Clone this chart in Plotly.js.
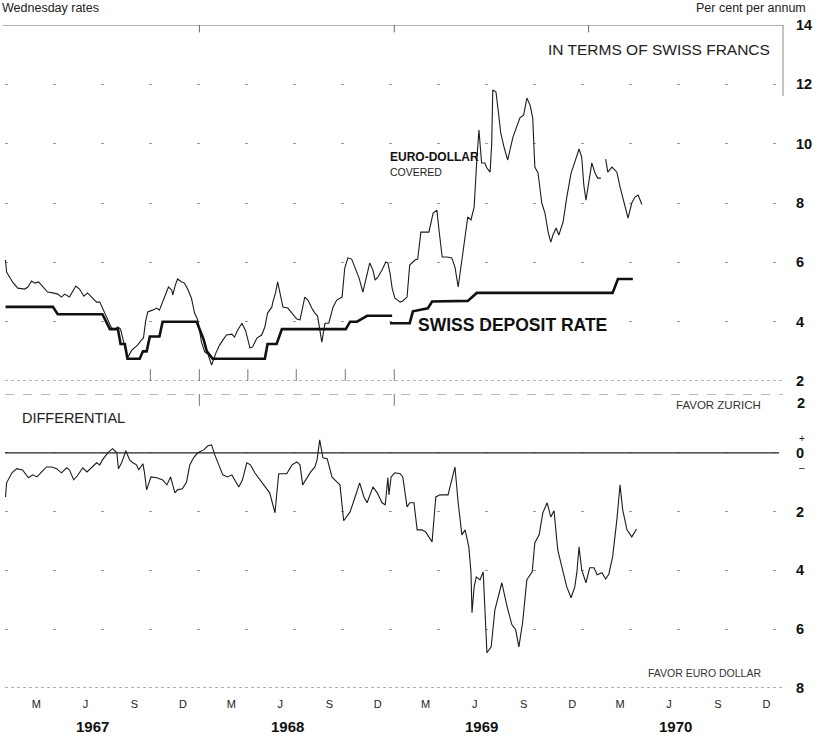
<!DOCTYPE html>
<html><head><meta charset="utf-8">
<script src="https://cdn.plot.ly/plotly-3.0.1.min.js"></script>
<style>html,body{margin:0;padding:0;background:#fff}#chart{width:821px;height:740px}</style>
</head><body><div id="chart"></div>
<script>
// Euro-dollar rate, covered (in terms of Swiss francs), decimal years
const edYears = [1967.005,1967.010,1967.041,1967.067,1967.103,1967.118,1967.139,1967.154,1967.175,1967.195,1967.221,1967.247,1967.272,1967.293,1967.308,1967.334,1967.350,1967.365,1967.386,1967.406,1967.427,1967.452,1967.473,1967.488,1967.504,1967.524,1967.550,1967.566,1967.581,1967.596,1967.612,1967.632,1967.653,1967.668,1967.684,1967.704,1967.715,1967.725,1967.735,1967.761,1967.781,1967.797,1967.812,1967.833,1967.843,1967.859,1967.864,1967.879,1967.889,1967.910,1967.925,1967.941,1967.961,1967.977,1967.992,
1968.013,1968.028,1968.044,1968.064,1968.085,1968.105,1968.121,1968.141,1968.167,1968.183,1968.198,1968.219,1968.239,1968.260,1968.275,1968.296,1968.321,1968.337,1968.352,1968.373,1968.378,1968.393,1968.404,1968.424,1968.429,1968.455,1968.476,1968.501,1968.517,1968.542,1968.558,1968.578,1968.594,1968.609,1968.630,1968.645,1968.666,1968.686,1968.707,1968.733,1968.748,1968.764,1968.784,1968.799,1968.820,1968.841,1968.861,1968.877,1968.892,1968.902,1968.918,1968.938,1968.959,1968.969,1968.979,1968.990,
1969.005,1969.031,1969.046,1969.067,1969.082,1969.108,1969.123,1969.139,1969.159,1969.180,1969.200,1969.221,1969.231,1969.247,1969.272,1969.298,1969.314,1969.329,1969.350,1969.365,1969.380,1969.396,1969.411,1969.427,1969.437,1969.442,1969.452,1969.468,1969.478,1969.494,1969.504,1969.509,1969.524,1969.535,1969.550,1969.566,1969.586,1969.612,1969.632,1969.648,1969.668,1969.684,1969.699,1969.715,1969.725,1969.740,1969.761,1969.776,1969.792,1969.807,1969.817,1969.833,1969.848,1969.869,1969.889,1969.910,1969.930,1969.951,1969.966,1969.977,1969.987,
1970.003,1970.018,1970.033,1970.049,1970.064,null,1970.090,1970.100,1970.121,1970.147,1970.162,1970.183,1970.203,1970.224,1970.239,1970.255,1970.275];
const edRates = [6.08,5.67,5.34,5.13,5.10,5.17,5.37,5.30,5.34,5.17,5.00,4.97,4.93,4.83,4.93,4.83,5.03,5.20,5.10,4.86,4.97,4.80,4.66,4.66,4.46,4.16,3.79,3.75,3.82,3.75,3.28,2.78,3.04,3.11,3.21,3.38,3.45,4.00,4.33,4.39,4.46,4.39,4.66,5.00,5.17,5.07,4.90,5.24,5.44,5.34,5.30,5.10,4.80,4.29,4.06,
3.31,2.98,2.91,2.54,2.94,3.21,3.38,3.55,3.58,3.48,3.72,3.95,3.69,3.11,3.15,3.45,3.55,3.82,4.29,4.49,4.66,4.97,5.34,4.73,4.49,4.46,4.29,4.09,4.06,4.83,4.73,4.46,4.29,4.19,3.31,3.95,3.95,4.49,4.73,4.83,5.81,6.15,6.11,5.84,5.47,5.00,5.64,5.98,5.74,5.40,5.50,5.74,6.01,5.98,5.64,5.13,
4.80,4.66,4.70,4.83,5.91,6.08,6.11,7.02,7.02,7.02,7.66,7.76,7.09,6.18,6.18,6.15,5.84,5.17,6.08,6.85,7.53,7.43,7.86,9.45,10.46,10.02,9.35,9.35,9.18,9.04,10.02,11.81,11.74,11.14,10.36,9.89,9.45,10.23,10.56,10.87,10.97,11.54,11.30,10.87,9.21,9.01,8.00,7.66,7.02,6.68,6.92,7.16,6.92,7.36,8.20,9.01,9.38,9.82,9.55,8.60,8.10,
8.88,9.35,9.01,8.84,8.84,null,9.48,9.04,9.21,9.04,8.54,8.00,7.49,8.00,8.20,8.27,7.95];

// Swiss deposit rate
const sdYears = [1967.005,1967.247,1967.272,1967.504,1967.540,1967.581,1967.596,1967.617,1967.632,1967.694,1967.710,1967.730,1967.746,1967.797,1967.812,1967.987,
1968.023,1968.039,1968.069,1968.337,1968.352,1968.398,1968.424,1968.753,1968.774,1968.810,1968.861,1968.990,null,1968.979,
1969.082,1969.098,1969.175,1969.195,1969.380,1969.427,1970.126,1970.152,1970.229];
const sdRates = [4.50,4.50,4.25,4.25,3.75,3.75,3.25,3.25,2.75,2.75,3.00,3.00,3.50,3.50,4.00,4.00,
3.40,3.00,2.75,2.75,3.25,3.25,3.75,3.75,4.00,4.00,4.20,4.20,null,3.95,
3.95,4.35,4.45,4.68,4.70,4.97,4.97,5.44,5.44];

// Differential (positive = favor Zurich)
const dfYears = [1967.005,1967.010,1967.036,1967.062,1967.093,1967.113,1967.123,1967.144,1967.165,1967.190,1967.216,1967.242,1967.267,1967.293,1967.319,1967.334,1967.355,1967.375,1967.401,1967.422,1967.447,1967.473,1967.488,1967.504,1967.530,1967.555,1967.576,1967.586,1967.602,1967.622,1967.643,1967.658,1967.679,1967.689,1967.710,1967.720,1967.730,1967.751,1967.781,1967.812,1967.833,1967.853,1967.874,1967.889,1967.915,1967.936,1967.951,1967.972,1967.992,
1968.023,1968.044,1968.064,1968.080,1968.095,1968.121,1968.147,1968.167,1968.203,1968.224,1968.244,1968.265,1968.285,1968.301,1968.337,1968.362,1968.388,1968.409,1968.450,1968.476,1968.501,1968.517,1968.532,1968.553,1968.573,1968.594,1968.604,1968.620,1968.635,1968.656,1968.681,1968.707,1968.722,1968.743,1968.774,1968.799,1968.825,1968.846,1968.861,1968.892,1968.913,1968.938,1968.954,1968.969,1968.974,1968.985,
1969.005,1969.031,1969.046,1969.067,1969.082,1969.103,1969.118,1969.144,1969.164,1969.195,1969.216,1969.237,1969.278,1969.314,1969.329,1969.350,1969.365,1969.386,1969.396,1969.401,1969.411,1969.422,1969.442,1969.458,1969.463,1969.473,1969.478,1969.499,1969.519,1969.555,1969.581,1969.607,1969.627,1969.643,1969.663,1969.684,1969.710,1969.725,1969.746,1969.766,1969.787,1969.807,1969.823,1969.843,1969.869,1969.889,1969.910,1969.930,1969.941,1969.951,1969.966,1969.987,
1970.008,1970.028,1970.044,1970.069,1970.090,1970.105,1970.126,1970.147,1970.162,1970.177,1970.198,1970.224,1970.249];
const dfValues = [-1.50,-1.02,-0.68,-0.54,-0.58,-0.75,-0.85,-0.75,-0.82,-0.65,-0.48,-0.48,-0.54,-0.68,-0.51,-0.58,-0.92,-0.78,-0.51,-0.65,-0.51,-0.34,-0.41,-0.24,0.00,0.14,0.00,-0.54,-0.34,0.07,-0.24,-0.34,-0.41,-0.58,-0.37,-0.68,-1.26,-0.82,-0.85,-0.92,-1.09,-0.82,-1.36,-1.26,-1.22,-0.99,-0.41,-0.17,0.00,
0.10,0.24,0.27,-0.07,-0.31,-0.75,-0.82,-0.75,-1.16,-0.92,-0.34,-0.41,-0.68,-0.82,-1.16,-1.36,-2.04,-0.71,-0.71,-0.41,-0.31,-0.41,-1.09,-0.85,-0.65,-0.48,-0.24,0.44,-0.17,-0.20,-0.82,-0.99,-1.09,-2.31,-2.01,-1.53,-1.02,-1.50,-1.70,-1.16,-1.36,-1.70,-1.77,-0.85,-1.43,-0.82,
-0.68,-0.71,-0.82,-1.84,-1.70,-1.70,-2.62,-2.62,-2.69,-3.03,-1.50,-1.43,-1.43,-0.48,-1.70,-2.79,-2.62,-3.20,-4.05,-5.44,-4.56,-4.22,-4.32,-4.05,-4.56,-6.02,-6.80,-6.60,-5.34,-4.42,-5.24,-5.85,-6.02,-6.60,-5.78,-4.32,-4.05,-3.06,-2.79,-2.04,-1.70,-2.18,-1.97,-3.30,-4.05,-4.56,-4.93,-4.56,-4.05,-3.20,-3.98,-4.42,
-3.91,-3.91,-4.15,-4.08,-4.29,-4.12,-3.54,-2.28,-1.09,-1.94,-2.62,-2.86,-2.59];

// Axis labels
const monthTickDates = ['1967-03-01','1967-06-01','1967-09-01','1967-12-01','1968-03-01','1968-06-01','1968-09-01','1968-12-01','1969-03-01','1969-06-01','1969-09-01','1969-12-01','1970-03-01','1970-06-01','1970-09-01','1970-12-01'];
const monthTickText = ['M','J','S','D','M','J','S','D','M','J','S','D','M','J','S','D'];
const yearLabels = ['1967','1968','1969','1970'];
const topTicks = [2,4,6,8,10,12,14];
const diffTicks = [0,-2,-4,-6,-8];
const diffTickText = ['0','2','4','6','8'];
const diffTopLabel = '2';

function toDate(y){
  if (y === null) return null;
  const y0 = Math.floor(y);
  const s = Date.UTC(y0,0,1), e = Date.UTC(y0+1,0,1);
  return new Date(s + (y - y0)*(e - s)).toISOString().slice(0,10);
}

const ink = '#1c1c1c';
const traces = [
  {x: edYears.map(toDate), y: edRates, xaxis:'x', yaxis:'y', mode:'lines', line:{color:ink, width:1.1}, connectgaps:false, hoverinfo:'skip'},
  {x: sdYears.map(toDate), y: sdRates, xaxis:'x', yaxis:'y', mode:'lines', line:{color:'#111', width:2.6}, connectgaps:false, hoverinfo:'skip'},
  {x: dfYears.map(toDate), y: dfValues, xaxis:'x', yaxis:'y2', mode:'lines', line:{color:ink, width:1.1}, hoverinfo:'skip'}
];

const gridStyle = {showgrid:true, gridcolor:'#9a9a9a', gridwidth:1, griddash:'3px,45px', zeroline:false, showline:false, ticks:'', side:'right', ticklabelstandoff:12, tickfont:{size:14.5, weight:'bold', color:'#111'}};

const layout = {
  width:821, height:740,
  margin:{l:5, r:38, t:25, b:52},
  paper_bgcolor:'#fff', plot_bgcolor:'rgba(0,0,0,0)', showlegend:false,
  font:{family:'"Liberation Sans", Arial, sans-serif', color:ink},
  xaxis:{type:'date', range:['1967-01-01','1971-01-01'], anchor:'y2', tickvals:monthTickDates, ticktext:monthTickText,
         ticks:'', showgrid:false, zeroline:false, showline:false, tickfont:{size:11, color:'#222'}, ticklabelstandoff:8},
  yaxis: Object.assign({domain:[0.463,1], range:[2,14], tickvals:topTicks, anchor:'x'}, gridStyle),
  yaxis2: Object.assign({domain:[0,0.4434], range:[-8,2], tickvals:diffTicks, ticktext:diffTickText, anchor:'x'}, gridStyle),
  shapes:[
    {type:'line', xref:'paper', yref:'y', x0:-0.003, x1:1, y0:14, y1:14, line:{color:'#666', width:1}},
    {type:'line', xref:'paper', yref:'y', x0:1, x1:1, y0:14, y1:11.6, line:{color:'#888', width:1}},
    {type:'line', xref:'paper', yref:'y', x0:0, x1:1, y0:2, y1:2, line:{color:'#666', width:1, dash:'dot'}},
    {type:'line', xref:'paper', yref:'y2', x0:0, x1:1, y0:2, y1:2, line:{color:'#777', width:1, dash:'dash'}},
    {type:'line', xref:'paper', yref:'y2', x0:0, x1:0.995, y0:0, y1:0, line:{color:'#222', width:1.3}},
    {type:'line', xref:'paper', yref:'y2', x0:0, x1:1, y0:-8, y1:-8, line:{color:'#666', width:1, dash:'dot'}}
  ].concat(['1968-01-01','1969-01-01','1970-01-01'].map(d => ({type:'line', xref:'x', yref:'y', x0:d, x1:d, y0:14, y1:13.75, line:{color:'#666', width:1}})))
   .concat(['1967-10-01','1968-01-01','1968-04-01','1968-07-01','1968-10-01','1969-01-01'].map(d => ({type:'line', xref:'x', yref:'y', x0:d, x1:d, y0:2, y1:2.4, line:{color:'#777', width:1}})))
   .concat(['1968-01-01','1969-01-01'].map(d => ({type:'line', xref:'x', yref:'y2', x0:d, x1:d, y0:2, y1:1.6, line:{color:'#777', width:1}}))),
  annotations:[
    {text:'Wednesday rates', xref:'paper', yref:'paper', x:-0.0064, y:1.0256, xanchor:'left', yanchor:'middle', showarrow:false, font:{size:12.5, color:'#222'}},
    {text:'Per cent per annum', xref:'paper', yref:'paper', x:1.0321, y:1.0256, xanchor:'right', yanchor:'middle', showarrow:false, font:{size:12.5, color:'#222'}},
    {text:'IN TERMS OF SWISS FRANCS', xref:'paper', yref:'paper', x:0.8406, y:0.9623, xanchor:'center', yanchor:'middle', showarrow:false, font:{size:15.5, color:'#222'}},
    {text:'<b>EURO-DOLLAR</b>', xref:'paper', yref:'paper', x:0.4923, y:0.8009, xanchor:'left', yanchor:'middle', showarrow:false, font:{size:12, color:'#111'}},
    {text:'COVERED', xref:'paper', yref:'paper', x:0.4923, y:0.7783, xanchor:'left', yanchor:'middle', showarrow:false, font:{size:10.5, color:'#222'}},
    {text:'<b>SWISS DEPOSIT RATE</b>', xref:'paper', yref:'paper', x:0.5283, y:0.5475, xanchor:'left', yanchor:'middle', showarrow:false, font:{size:17.5, color:'#111'}},
    {text:'DIFFERENTIAL', xref:'paper', yref:'paper', x:0.0193, y:0.4072, xanchor:'left', yanchor:'middle', showarrow:false, font:{size:14.5, color:'#222'}},
    {text:'FAVOR ZURICH', xref:'paper', yref:'paper', x:0.9743, y:0.4268, xanchor:'right', yanchor:'middle', showarrow:false, font:{size:11.5, color:'#333'}},
    {text:'FAVOR EURO DOLLAR', xref:'paper', yref:'paper', x:0.9743, y:0.0226, xanchor:'right', yanchor:'middle', showarrow:false, font:{size:10.5, color:'#333'}},
    {text:'<b>'+diffTopLabel+'</b>', xref:'paper', yref:'paper', x:1.0235, y:(688-403)/663, xanchor:'center', yanchor:'middle', showarrow:false, font:{size:14.5, color:'#111'}},
    {text:'+', xref:'paper', yref:'paper', x:1.0245, y:0.377, xanchor:'center', yanchor:'middle', showarrow:false, font:{size:10, color:'#222'}},
    {text:'\u2013', xref:'paper', yref:'paper', x:1.0245, y:0.333, xanchor:'center', yanchor:'middle', showarrow:false, font:{size:10, color:'#222'}}
  ].concat(yearLabels.map(y => ({text:'<b>'+y+'</b>', xref:'x', yref:'paper', x:y+'-06-14', y:-0.0588, xanchor:'center', yanchor:'middle', showarrow:false, font:{size:15, color:'#111'}})))
};

Plotly.newPlot('chart', traces, layout, {staticPlot:true, displayModeBar:false});
</script>
</body></html>
